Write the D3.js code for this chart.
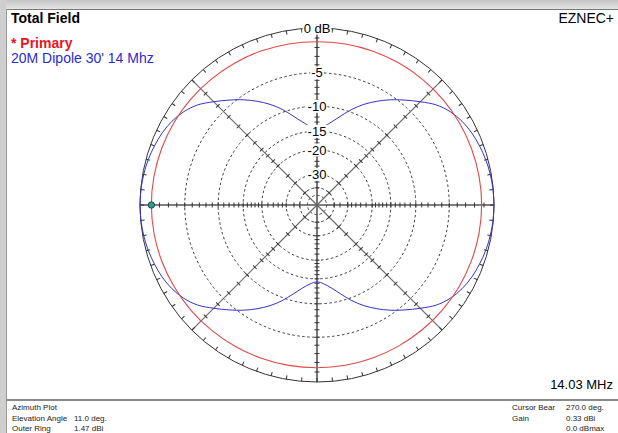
<!DOCTYPE html>
<html>
<head>
<meta charset="utf-8">
<script src="https://cdn.jsdelivr.net/npm/d3@7"></script>
<style>
  body { margin: 0; background: #fff; }
  svg { display: block; font-family: 'Liberation Sans', Arial, sans-serif; }
</style>
</head>
<body>
<svg id="chart" width="618" height="433"></svg>
<script>
// compass bearing, degrees (0 = top, clockwise)
const redBearings = d3.range(0, 360, 10);
// primary trace, dB below outer ring
const redDb = [
  -1.38, -1.36, -1.34, -1.32, -1.3, -1.28, -1.27, -1.26, -1.25,
  -1.24, -1.26, -1.29, -1.32, -1.36, -1.39, -1.42, -1.43, -1.44,
  -1.44, -1.43, -1.41, -1.38, -1.34, -1.29, -1.25, -1.2, -1.16,
  -1.14, -1.15, -1.17, -1.2, -1.23, -1.27, -1.3, -1.33, -1.36
];

const blueBearings = d3.range(0, 360, 5);
// 20M dipole trace, dB below outer ring
const blueDb = [
  -14.1, -13.8, -12.7, -11.2, -9.5, -8.0, -6.7, -5.5, -4.4, -3.3, -2.2, -1.45, -0.95, -0.62, -0.4, -0.22, -0.1, -0.03,
  0, -0.03, -0.1, -0.22, -0.4, -0.62, -0.95, -1.45, -2.2, -3.3, -4.4, -5.5, -6.7, -8.0, -9.5, -11.2, -12.7, -13.8,
  -14.3, -13.8, -12.7, -11.2, -9.5, -8.0, -6.7, -5.5, -4.4, -3.3, -2.2, -1.45, -0.95, -0.62, -0.4, -0.22, -0.1, -0.03,
  0, -0.03, -0.1, -0.22, -0.4, -0.62, -0.95, -1.45, -2.2, -3.3, -4.4, -5.5, -6.7, -8.0, -9.5, -11.2, -12.7, -13.8
];

const ringDb = [-5, -10, -15, -20, -30, -40, -50];
const ringLabels = ['0 dB', '-5', '-10', '-15', '-20', '-30'];
const ringLabelDb = [0, -5, -10, -15, -20, -30];
const axisTickDb = [-1, -2, -3, -4, -5, -6, -7, -8, -9, -10, -11, -12, -13, -14, -15, -16, -17, -18, -19, -20, -22, -24, -26, -28, -30, -35, -40];
const diagTickDb = [-2, -4, -6, -8, -10, -12, -14, -16, -18, -20, -25, -30, -40];
const spokeBearings = [0, 45, 90, 135, 180, 225, 270, 315];
const cursorBearing = 270;
const cursorDb = -1.14;

const infoLeft = [['Azimuth Plot', ''], ['Elevation Angle', '11.0 deg.'], ['Outer Ring', '1.47 dBi']];
const infoRight = [['Cursor Bear', '270.0 deg.'], ['Gain', '0.33 dBi'], ['', '0.0 dBmax']];

const svg = d3.select('#chart');
const W = 618, H = 433;
const cx = 317, cy = 205, R = 177;

// window chrome
const defs = svg.append('defs');
const grad = defs.append('linearGradient').attr('id', 'topbar').attr('x1', 0).attr('y1', 0).attr('x2', 0).attr('y2', 1);
grad.append('stop').attr('offset', '0%').attr('stop-color', '#c4c4c4');
grad.append('stop').attr('offset', '100%').attr('stop-color', '#e4e4e4');
svg.append('rect').attr('x', 0).attr('y', 0).attr('width', W).attr('height', 9).attr('fill', 'url(#topbar)');
svg.append('rect').attr('x', 0).attr('y', 0).attr('width', 6).attr('height', H).attr('fill', '#cfcfcf');
svg.append('line').attr('x1', 6).attr('x2', W).attr('y1', 9.5).attr('y2', 9.5).attr('stroke', '#777');
svg.append('line').attr('x1', 6.5).attr('x2', 6.5).attr('y1', 9).attr('y2', H).attr('stroke', '#999');
svg.append('line').attr('x1', 6).attr('x2', W).attr('y1', 400).attr('y2', 400).attr('stroke', '#8a8a8a').attr('stroke-width', 2);

// ARRL log scale: radius follows field ratio to the 0.506 power
const rScale = d3.scalePow().exponent(0.5063).domain([0, 1]).range([0, R]);
const r = db => rScale(Math.pow(10, db / 20));
const angle = d3.scaleLinear().domain([0, 360]).range([0, 2 * Math.PI]);

const g = svg.append('g').attr('transform', `translate(${cx},${cy})`);

// dashed rings
g.selectAll('circle.ring').data(ringDb).join('circle')
  .attr('class', 'ring')
  .attr('r', d => r(d))
  .attr('fill', 'none')
  .attr('stroke', '#222')
  .attr('stroke-width', 0.9)
  .attr('stroke-dasharray', '2.5,2.5');

// spokes
const pt = (b, db) => {
  const a = angle(b);
  return [r(db) * Math.sin(a), -r(db) * Math.cos(a)];
};
g.selectAll('line.spoke').data(spokeBearings).join('line')
  .attr('class', 'spoke')
  .attr('x1', 0).attr('y1', 0)
  .attr('x2', d => pt(d, 0)[0]).attr('y2', d => pt(d, 0)[1])
  .attr('stroke', d => d % 90 === 0 ? '#555' : '#6a6a6a')
  .attr('stroke-width', d => d % 90 === 0 ? 1.6 : 1.2);

// ticks along spokes
const spokeTicks = [];
spokeBearings.forEach(b => (b % 90 === 0 ? axisTickDb : diagTickDb).forEach(db => spokeTicks.push({ b, db })));
g.selectAll('line.stick').data(spokeTicks).join('line')
  .attr('class', 'stick')
  .attr('transform', d => `rotate(${d.b}) translate(0,${-r(d.db)})`)
  .attr('x1', -2.5).attr('x2', 2.5).attr('y1', 0).attr('y2', 0)
  .attr('stroke', '#333').attr('stroke-width', 1);

// outer ring
g.append('circle').attr('r', R).attr('fill', 'none').attr('stroke', '#333').attr('stroke-width', 1);
g.selectAll('line.otick').data(d3.range(0, 360, 5)).join('line')
  .attr('class', 'otick')
  .attr('transform', d => `rotate(${d})`)
  .attr('x1', 0).attr('x2', 0).attr('y1', -R).attr('y2', -R + 4)
  .attr('stroke', '#333').attr('stroke-width', 1);

// traces
const radial = d3.lineRadial()
  .angle(d => angle(d[0]))
  .radius(d => r(d[1]))
  .curve(d3.curveCatmullRomClosed.alpha(0.5));

g.append('path')
  .datum(blueBearings.map((b, i) => [b, blueDb[i]]))
  .attr('d', radial)
  .attr('fill', 'none').attr('stroke', '#3434c8').attr('stroke-width', 1);

g.append('path')
  .datum(redBearings.map((b, i) => [b, redDb[i]]))
  .attr('d', radial)
  .attr('fill', 'none').attr('stroke', '#e04848').attr('stroke-width', 1.1);

// cursor
g.append('circle')
  .attr('cx', pt(cursorBearing, cursorDb)[0]).attr('cy', pt(cursorBearing, cursorDb)[1])
  .attr('r', 3.2).attr('fill', '#2fa36b').attr('stroke', '#1a3f7a').attr('stroke-width', 1);

// ring labels with white backing
const lab = g.selectAll('g.rlab').data(ringLabels).join('g')
  .attr('class', 'rlab')
  .attr('transform', (d, i) => `translate(0,${-r(ringLabelDb[i])})`);
lab.append('text')
  .attr('text-anchor', 'middle')
  .attr('dy', '0.36em')
  .attr('font-size', 13)
  .attr('fill', '#000')
  .text(d => d);
lab.each(function () {
  const t = d3.select(this).select('text');
  const bb = t.node().getBBox();
  d3.select(this).insert('rect', 'text')
    .attr('x', bb.x - 1).attr('y', bb.y + 1)
    .attr('width', bb.width + 2).attr('height', bb.height - 2)
    .attr('fill', '#fff');
});

// header texts
svg.append('text').attr('x', 11).attr('y', 23).attr('font-size', 14).attr('font-weight', 'bold').attr('fill', '#000').text('Total Field');
svg.append('text').attr('x', 11).attr('y', 47.5).attr('font-size', 14).attr('font-weight', 'bold').attr('fill', '#e8141e').text('* Primary');
svg.append('text').attr('x', 11).attr('y', 63).attr('font-size', 14).attr('fill', '#2b2bd0').text("20M Dipole 30' 14 Mhz");
svg.append('text').attr('x', 614).attr('y', 23).attr('font-size', 14).attr('text-anchor', 'end').attr('fill', '#000').text('EZNEC+');
svg.append('text').attr('x', 613).attr('y', 389).attr('font-size', 13).attr('text-anchor', 'end').attr('fill', '#000').text('14.03 MHz');

// footer
const foot = svg.append('g').attr('font-size', 8).attr('fill', '#222');
infoLeft.forEach((row, i) => {
  foot.append('text').attr('x', 12).attr('y', 410 + i * 10.5).text(row[0]);
  foot.append('text').attr('x', 74).attr('y', 410 + i * 10.5).text(row[1]);
});
infoRight.forEach((row, i) => {
  foot.append('text').attr('x', 512).attr('y', 410 + i * 10.5).text(row[0]);
  foot.append('text').attr('x', 566).attr('y', 410 + i * 10.5).text(row[1]);
});
</script>
</body>
</html>
